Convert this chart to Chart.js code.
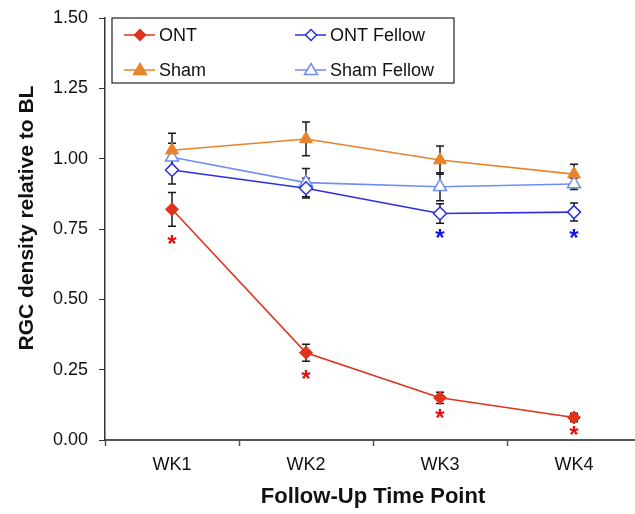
<!DOCTYPE html>
<html>
<head>
<meta charset="utf-8">
<script src="https://cdn.jsdelivr.net/npm/chart.js@4.4.0/dist/chart.umd.min.js"></script>
<style>
  html, body { margin: 0; padding: 0; background: #fff; overflow: hidden; }
  #wrap { width: 650px; height: 514px; position: relative; }
</style>
</head>
<body>
<div id="wrap"><canvas id="grafico"></canvas></div>
<script>
const semanas = ["WK1", "WK2", "WK3", "WK4"];

const ont        = [0.82, 0.31, 0.15, 0.08];
const ontErro    = [0.06, 0.03, 0.02, 0.015];
const sham       = [1.03, 1.07, 0.995, 0.945];
const shamErro   = [0.06, 0.06, 0.05, 0.035];
const ontFel     = [0.96, 0.895, 0.805, 0.81];
const ontFelErro = [0.05, 0.035, 0.035, 0.032];
const shamFel    = [1.005, 0.915, 0.9, 0.91];
const shamFelErro= [0.05, 0.05, 0.05, 0.02];

// asteriscos de significância
const estrelasVermelhas = [0.71, 0.23, 0.09, 0.03];
const estrelasAzuis     = [null, null, 0.73, 0.73];

const corOnt = "#e2321c";
const corSham = "#e8832c";
const corOntFel = "#2b2fe0";
const corShamFel = "#6f8ef0";
const fonte = "'Liberation Sans', Arial, sans-serif";

const barrasErro = {
  id: "barrasErro",
  beforeDatasetsDraw(chart) {
    const ctx = chart.ctx;
    const x = chart.scales.x, y = chart.scales.y;
    ctx.save();
    ctx.strokeStyle = "#1a1a1a";
    ctx.lineWidth = 1.5;
    chart.data.datasets.forEach(ds => {
      ds.erros.forEach((e, i) => {
        const px = x.getPixelForValue(i);
        const top = y.getPixelForValue(ds.data[i] + e);
        const bot = y.getPixelForValue(ds.data[i] - e);
        ctx.beginPath();
        ctx.moveTo(px, top); ctx.lineTo(px, bot);
        ctx.moveTo(px - 4, top); ctx.lineTo(px + 4, top);
        ctx.moveTo(px - 4, bot); ctx.lineTo(px + 4, bot);
        ctx.stroke();
      });
    });
    ctx.restore();
  },
  afterDatasetsDraw(chart) {
    const ctx = chart.ctx;
    const x = chart.scales.x, y = chart.scales.y;
    ctx.save();
    ctx.font = "bold 24px " + fonte;
    ctx.textAlign = "center";
    ctx.textBaseline = "middle";
    estrelasVermelhas.forEach((v, i) => {
      if (v == null) return;
      ctx.fillStyle = "#e01010";
      ctx.fillText("*", x.getPixelForValue(i), y.getPixelForValue(v) + 5);
    });
    estrelasAzuis.forEach((v, i) => {
      if (v == null) return;
      ctx.fillStyle = "#1010e8";
      ctx.fillText("*", x.getPixelForValue(i), y.getPixelForValue(v) + 5);
    });

    // título do eixo Y (um pouco acima do centro, como no original)
    ctx.save();
    ctx.translate(27, 218);
    ctx.rotate(-Math.PI / 2);
    ctx.font = "bold 21px " + fonte;
    ctx.fillStyle = "#111";
    ctx.fillText("RGC density relative to BL", 0, 0);
    ctx.restore();

    // legenda dentro do gráfico
    const lx = 112, ly = 18, lw = 342, lh = 65;
    ctx.fillStyle = "#fff";
    ctx.fillRect(lx, ly, lw, lh);
    ctx.strokeStyle = "#222";
    ctx.lineWidth = 1.2;
    ctx.strokeRect(lx, ly, lw, lh);
    ctx.font = "18px " + fonte;
    ctx.textAlign = "left";
    const itens = [
      [chart.data.datasets[0], 124, 35],
      [chart.data.datasets[2], 295, 35],
      [chart.data.datasets[1], 124, 70],
      [chart.data.datasets[3], 295, 70]
    ];
    itens.forEach(([ds, ix, iy]) => {
      ctx.strokeStyle = ds.borderColor;
      ctx.lineWidth = 1.5;
      ctx.beginPath();
      ctx.moveTo(ix, iy); ctx.lineTo(ix + 31, iy);
      ctx.stroke();
      ctx.fillStyle = ds.pointBackgroundColor;
      ctx.strokeStyle = ds.borderColor;
      ctx.beginPath();
      const cx = ix + 16, r = 5.5;
      if (ds.pointStyle === "rectRot") {
        ctx.moveTo(cx, iy - r); ctx.lineTo(cx + r, iy); ctx.lineTo(cx, iy + r); ctx.lineTo(cx - r, iy);
      } else {
        ctx.moveTo(cx, iy - r - 1); ctx.lineTo(cx + r + 1, iy + r - 1); ctx.lineTo(cx - r - 1, iy + r - 1);
      }
      ctx.closePath();
      ctx.fill(); ctx.stroke();
      ctx.fillStyle = "#111";
      ctx.fillText(ds.label, ix + 35, iy + 1);
    });
    ctx.restore();
  }
};

new Chart(document.getElementById("grafico"), {
  type: "line",
  data: {
    labels: semanas,
    datasets: [
      {
        label: "ONT", data: ont, erros: ontErro,
        borderColor: corOnt, pointBackgroundColor: corOnt, pointBorderColor: corOnt,
        pointStyle: "rectRot", pointRadius: 6.5, borderWidth: 1.6, pointBorderWidth: 1
      },
      {
        label: "Sham", data: sham, erros: shamErro,
        borderColor: corSham, pointBackgroundColor: corSham, pointBorderColor: corSham,
        pointStyle: "triangle", pointRadius: 7.5, borderWidth: 1.6, pointBorderWidth: 1
      },
      {
        label: "ONT Fellow", data: ontFel, erros: ontFelErro,
        borderColor: corOntFel, pointBackgroundColor: "#fff", pointBorderColor: corOntFel,
        pointStyle: "rectRot", pointRadius: 6.5, borderWidth: 1.6, pointBorderWidth: 1.5
      },
      {
        label: "Sham Fellow", data: shamFel, erros: shamFelErro,
        borderColor: corShamFel, pointBackgroundColor: "#fff", pointBorderColor: corShamFel,
        pointStyle: "triangle", pointRadius: 7.5, borderWidth: 1.6, pointBorderWidth: 1.5
      }
    ]
  },
  options: {
    responsive: true,
    maintainAspectRatio: false,
    animation: false,
    layout: { padding: { top: 18, right: 0, left: 0, bottom: 0 } },
    plugins: { legend: { display: false }, tooltip: { enabled: false } },
    scales: {
      x: {
        offset: true,
        grid: { offset: true, drawOnChartArea: false, tickLength: 6, color: "#555", tickWidth: 1.5 },
        border: { color: "#555", width: 2 },
        ticks: { color: "#111", font: { size: 18, family: fonte }, padding: 8 },
        title: {
          display: true, text: "Follow-Up Time Point", color: "#111",
          font: { size: 22, weight: "bold", family: fonte },
          padding: { top: 17 }
        },
        afterFit: s => { s.height = 74; }
      },
      y: {
        min: 0, max: 1.5,
        grid: { drawOnChartArea: false, tickLength: 6, color: "#333" },
        border: { color: "#333", width: 1.5 },
        ticks: {
          stepSize: 0.25, color: "#111", padding: 11,
          font: { size: 18, family: fonte },
          callback: v => v.toFixed(2)
        },
        afterFit: s => { s.width = 105; s.paddingTop = 0; s.paddingBottom = 0; }
      }
    }
  },
  plugins: [barrasErro]
});
</script>
</body>
</html>
